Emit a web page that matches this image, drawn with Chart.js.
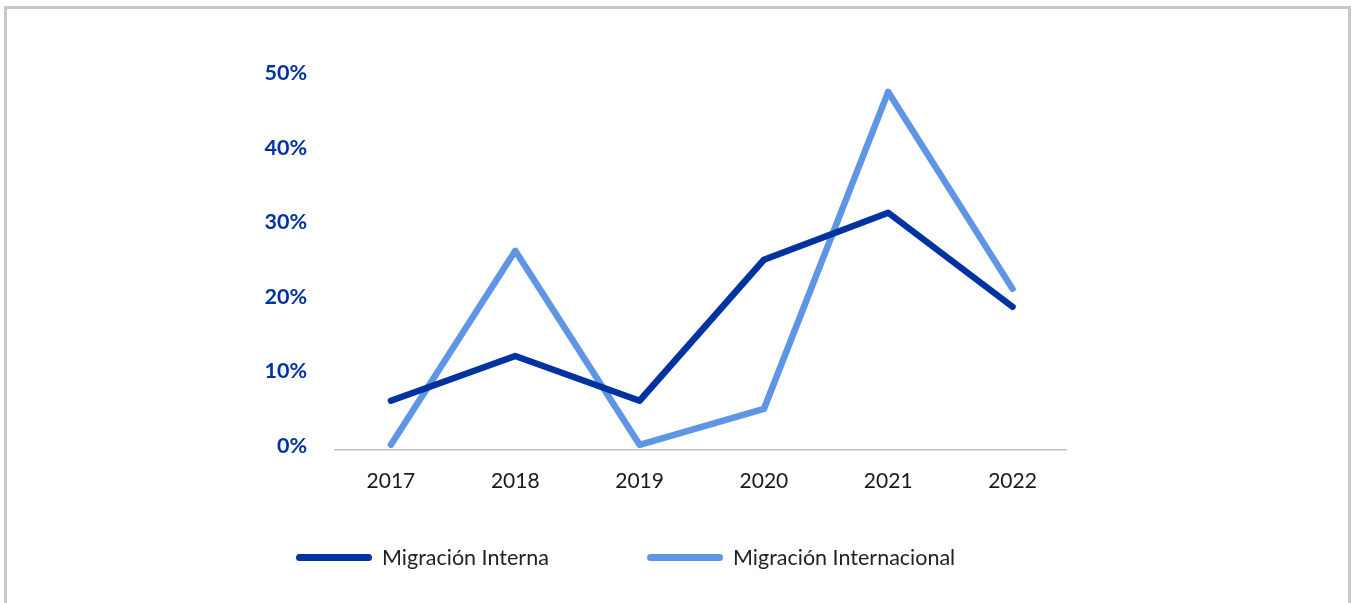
<!DOCTYPE html>
<html>
<head>
<meta charset="utf-8">
<script src="https://cdn.jsdelivr.net/npm/chart.js@4.4.1/dist/chart.umd.min.js"></script>
<style>
    html, body { margin: 0; padding: 0; background: #fff; }
    body { width: 1357px; height: 603px; position: relative; overflow: hidden; font-family: Lato, sans-serif; }
    #frame {
        position: absolute; left: 4px; top: 6px; width: 1341px; height: 640px;
        border: 3px solid #c8c8c8; border-bottom: none;
    }
    #wrap { position: absolute; left: 0; top: 0; width: 1357px; height: 603px; }
    #legend { position: absolute; top: 543px; left: 0; width: 1357px; height: 28px; }
    .item { position: absolute; top: 0; display: flex; align-items: center; height: 28px; font-size: 21.5px; color: #222; }
    .swatch { width: 76px; height: 7px; border-radius: 4px; margin-right: 10px; }
</style>
</head>
<body>
<div id="frame"></div>
<div id="wrap"><canvas id="chart" width="1357" height="603"></canvas></div>
<div id="legend"></div>
<script>
const years = [2017, 2018, 2019, 2020, 2021, 2022];
const seriesNames = ["Migración Interna", "Migración Internacional"];
const interna = [6.6, 12.6, 6.6, 25.5, 31.8, 19.2];
const internacional = [0.7, 26.7, 0.7, 5.5, 48.0, 21.6];
const yTicks = [0, 10, 20, 30, 40, 50];
const colors = ["#0033a0", "#5e95e4"];

const toPoints = (vals) => vals.map((v, i) => ({ x: years[i], y: v }));

const chart = new Chart(document.getElementById("chart"), {
    type: "line",
    data: {
        datasets: [
            { label: seriesNames[0], data: toPoints(interna), borderColor: colors[0], backgroundColor: colors[0] },
            { label: seriesNames[1], data: toPoints(internacional), borderColor: colors[1], backgroundColor: colors[1] }
        ].map(d => Object.assign(d, {
            borderWidth: 6.5,
            pointRadius: 0,
            tension: 0,
            borderCapStyle: "round",
            borderJoinStyle: "round"
        }))
    },
    options: {
        responsive: false,
        animation: false,
        layout: { padding: { left: 235, right: 291, top: 77, bottom: 0 } },
        scales: {
            x: {
                type: "linear",
                min: 2016.55,
                max: 2022.43,
                afterFit: (s) => { s.height = 153; },
                afterBuildTicks: (s) => { s.ticks = years.map(y => ({ value: y })); },
                grid: { display: false, drawTicks: false },
                border: { display: true, color: "#c0c0c0", width: 1.5 },
                ticks: {
                    padding: 19,
                    color: "#1a1a1a",
                    font: { family: "Lato", size: 21 },
                    maxRotation: 0,
                    callback: (v) => String(v)
                }
            },
            y: {
                min: 0,
                max: 50,
                afterFit: (s) => { s.width = 100; },
                afterBuildTicks: (s) => { s.ticks = yTicks.map(v => ({ value: v })); },
                grid: { display: false, drawTicks: false },
                border: { display: false },
                ticks: {
                    padding: 28,
                    labelOffset: -4,
                    color: "#0033a0",
                    font: { family: "Lato", size: 21.5, weight: "bold" },
                    callback: (v) => v + "%"
                }
            }
        },
        plugins: {
            legend: { display: false },
            tooltip: { enabled: false }
        }
    }
});

// legend drawn as html, positions
const legendX = [296, 647];
const legend = document.getElementById("legend");
seriesNames.forEach((name, i) => {
    const item = document.createElement("div");
    item.className = "item";
    item.style.left = legendX[i] + "px";
    item.innerHTML = '<span class="swatch" style="background:' + colors[i] + '"></span><span>' + name + '</span>';
    legend.appendChild(item);
});
</script>
</body>
</html>
